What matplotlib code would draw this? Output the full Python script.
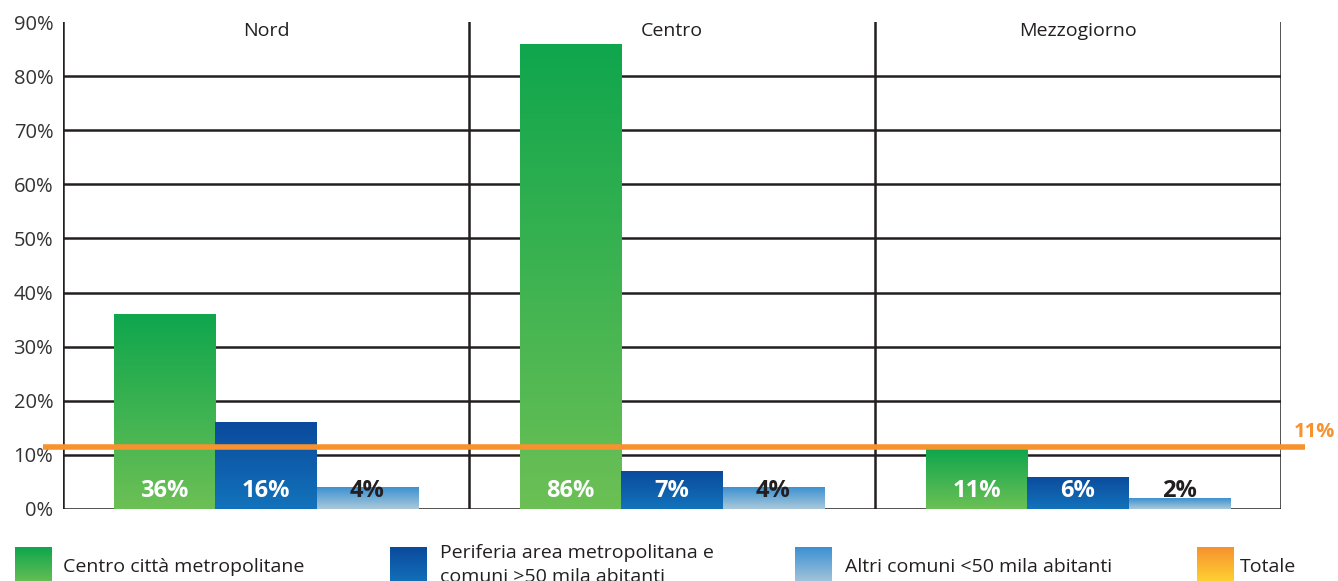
import numpy as np
import matplotlib
matplotlib.use("Agg")
import matplotlib.pyplot as plt
from matplotlib.colors import LinearSegmentedColormap

plt.rcParams['font.family'] = ['Open Sans', 'DejaVu Sans']

regions = ["Nord", "Centro", "Mezzogiorno"]
series_names = ["Centro città metropolitane",
                "Periferia area metropolitana e\ncomuni >50 mila abitanti",
                "Altri comuni <50 mila abitanti",
                "Totale"]
centro_citta = [36, 86, 11]
periferia = [16, 7, 6]
altri_comuni = [4, 4, 2]
totale = 11.4
totale_label = "11%"
yticks = [0, 10, 20, 30, 40, 50, 60, 70, 80, 90]

grad_colors = [("#0fa64d", "#6cc055"),
               ("#0b4a9d", "#1273bb"),
               ("#3c91d2", "#aac9da")]
legend_grad = grad_colors + [("#f7922f", "#ffd733")]
label_colors = ["white", "white", "#231f20"]
dark = "#231f20"
orange = "#f7922f"

W, H = 1338, 581
fig = plt.figure(figsize=(W / 100, H / 100), dpi=100)
ax = fig.add_axes([63 / W, 1 - 509 / H, (1281 - 63) / W, (509 - 22) / H])
ax.set_xlim(0, 3)
ax.set_ylim(0, 90)

# grid lines
for t in yticks[:-1]:
    ax.axhline(t, color=dark, lw=1.8, zorder=1)
for g in range(4):
    ax.axvline(g, color=dark, lw=1.8, zorder=1)
for s in ax.spines.values():
    s.set_visible(False)

ax.set_yticks(yticks)
ax.set_yticklabels([f"{t}%" for t in yticks], fontsize=14.5, color="#333333")
ax.tick_params(axis='y', length=0, pad=7)
ax.set_xticks([])

series = [centro_citta, periferia, altri_comuni]
bw = 0.25
for k, vals in enumerate(series):
    xs = np.arange(3) + 0.125 + bw * k
    bars = ax.bar(xs, vals, width=bw, align='edge', color='none', edgecolor='none', zorder=2)
    cmap = LinearSegmentedColormap.from_list(f"g{k}", [grad_colors[k][1], grad_colors[k][0]])
    for b, v in zip(bars, vals):
        x0, w, h = b.get_x(), b.get_width(), b.get_height()
        grad = np.linspace(0, 1, 256).reshape(-1, 1)
        im = ax.imshow(grad, extent=[x0, x0 + w, 0, h], origin='lower', cmap=cmap,
                       aspect='auto', zorder=2, interpolation='bicubic')
        im.set_clip_path(b)
        ax.text(x0 + w / 2, 3.3, f"{v}%", ha='center', va='center', fontsize=17,
                fontweight='bold', color=label_colors[k], zorder=4)

ax.set_xlim(0, 3)
ax.set_ylim(0, 90)

# total line
ax.plot([-0.049, 3.059], [totale, totale], color=orange, lw=4, clip_on=False, zorder=3,
        solid_capstyle='butt')
ax.text(3.133, totale + 2.8, totale_label, color=orange, fontsize=14.5, fontweight='bold',
        ha='right', va='center', clip_on=False)

for g, r in enumerate(regions):
    ax.text(g + 0.5, 88.4, r, ha='center', va='center', fontsize=14, color=dark)

# legend
lax = fig.add_axes([0, 0, 1, 41 / H])
lax.axis('off')
patch_x = [15, 390, 795, 1197]
text_x = [63, 440, 845, 1240]
for i, name in enumerate(series_names):
    cmap = LinearSegmentedColormap.from_list(f"l{i}", [legend_grad[i][0], legend_grad[i][1]])
    grad = np.linspace(0, 1, 64).reshape(-1, 1)
    lax.imshow(grad, extent=[patch_x[i], patch_x[i] + 37, 45, 7], origin='upper',
               cmap=cmap, aspect='auto', interpolation='bicubic', clip_on=False)
    lines = name.split("\n")
    if len(lines) == 1:
        lax.text(text_x[i], 27, lines[0], fontsize=14, color=dark, va='center', ha='left')
    else:
        lax.text(text_x[i], 13, lines[0], fontsize=14, color=dark, va='center', ha='left')
        lax.text(text_x[i], 37, lines[1], fontsize=14, color=dark, va='center', ha='left')
lax.set_xlim(0, W)
lax.set_ylim(41, 0)

fig.savefig("out.png", dpi=100)
